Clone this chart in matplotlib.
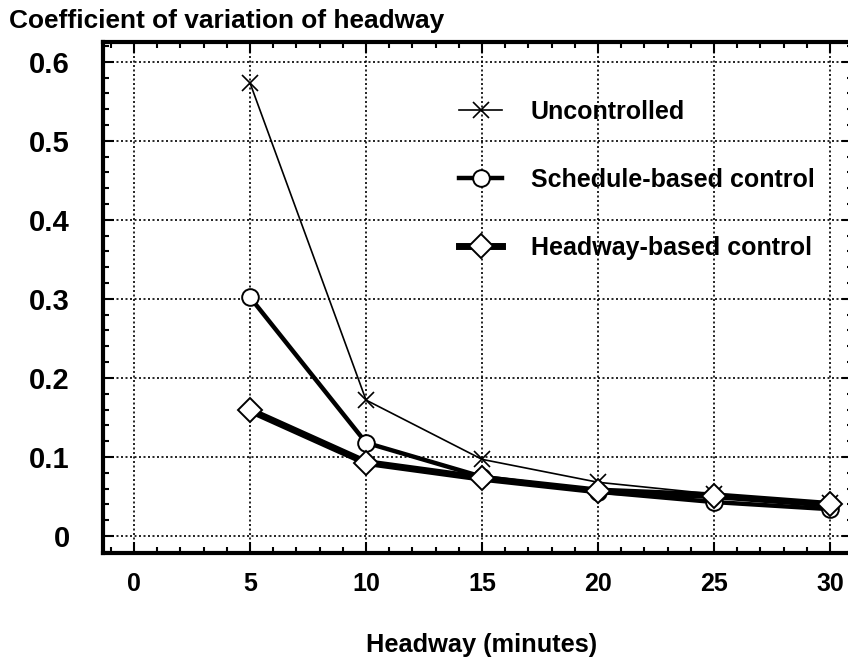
import numpy as np
import matplotlib
matplotlib.use("Agg")
import matplotlib.pyplot as plt
from matplotlib.ticker import MultipleLocator

plt.rcParams['font.family'] = ['Liberation Sans', 'DejaVu Sans']
plt.rcParams['font.weight'] = 'bold'

# headway (minutes) and coefficient of variation for each strategy
headway = [5, 10, 15, 20, 25, 30]
uncontrolled = [0.573, 0.172, 0.097, 0.068, 0.053, 0.042]
schedule_based = [0.302, 0.118, 0.075, 0.056, 0.043, 0.034]
headway_based = [0.159, 0.093, 0.073, 0.057, 0.051, 0.040]

x_ticks = [0, 5, 10, 15, 20, 25, 30]
y_ticks = [0, 0.1, 0.2, 0.3, 0.4, 0.5, 0.6]
y_tick_labels = ['0', '0.1', '0.2', '0.3', '0.4', '0.5', '0.6']

fig = plt.figure(figsize=(8.48, 6.6), dpi=100)
ax = fig.add_axes([0.1215, 0.1621, 0.8845, 0.7743])

ax.plot(headway, uncontrolled, color='black', lw=1.2, marker='x',
        ms=12, mew=1.2, label='Uncontrolled', zorder=3)
ax.plot(headway, schedule_based, color='black', lw=3.2, marker='o',
        ms=12, mfc='white', mec='black', mew=1.4,
        label='Schedule-based control', zorder=4)
ax.plot(headway, headway_based, color='black', lw=5, marker='D',
        ms=12, mfc='white', mec='black', mew=1.4,
        label='Headway-based control', zorder=5)

ax.set_xlim(-1.34, 31.0)
ax.set_ylim(-0.0215, 0.625)
ax.set_xticks(x_ticks)
ax.set_yticks(y_ticks)
ax.set_yticklabels(y_tick_labels)
ax.xaxis.set_minor_locator(MultipleLocator(1))
ax.yaxis.set_minor_locator(MultipleLocator(0.02))

ax.tick_params(which='both', direction='in', top=True, right=True,
               width=1.5, color='black')
ax.tick_params(which='major', length=8)
ax.tick_params(which='minor', length=4.5)
ax.tick_params(axis='x', which='major', labelsize=18, pad=14)
ax.tick_params(axis='y', which='major', labelsize=21, pad=24)

for sp in ax.spines.values():
    sp.set_linewidth(3)

ax.grid(True, which='major', color='black', linestyle=(0, (1.2, 1.5)),
        linewidth=1.2)
ax.set_axisbelow(True)

ax.set_xlabel('Headway (minutes)', fontsize=18.3, fontweight='bold',
              labelpad=26, x=0.505)
fig.text(0.011, 0.968, 'Coefficient of variation of headway',
         fontsize=18.9, fontweight='bold', ha='left', va='center')

ax.legend(loc='upper left', bbox_to_anchor=(0.475, 0.887), frameon=False,
          fontsize=18, handlelength=1.7, handletextpad=1.15,
          labelspacing=1.76, borderpad=0, borderaxespad=0)

fig.savefig('out.png', dpi=100)
